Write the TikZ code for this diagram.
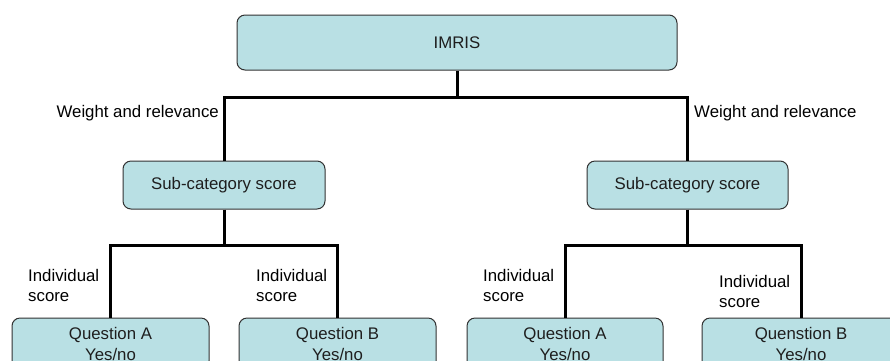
\documentclass[tikz,border=0pt]{standalone}
\usepackage{fontspec}
\setmainfont{Liberation Sans}
\definecolor{boxfill}{RGB}{185,224,228}
\definecolor{boxline}{RGB}{50,50,50}
\definecolor{boxtext}{RGB}{30,30,30}
\begin{document}
\begin{tikzpicture}[x=1pt,y=-1pt,
  box/.style={draw=boxline,line width=1pt,fill=boxfill,rounded corners=8pt,
    text=boxtext,align=center,inner sep=0pt,font=\fontsize{16.8}{21}\selectfont},
  lbl/.style={inner sep=0pt,font=\fontsize{16.8}{20}\selectfont,align=left},
  link/.style={line width=3pt,black}]
\clip (0,0) rectangle (890,360);
\fill[white] (0,0) rectangle (890,360);
% nodes
\node[box,minimum width=440pt,minimum height=55pt] (imris) at (457,42.5) {IMRIS};
\node[box,minimum width=202pt,minimum height=48pt] (sub1) at (224,185) {Sub-category score};
\node[box,minimum width=201pt,minimum height=48pt] (sub2) at (687.5,185) {Sub-category score};
\node[box,minimum width=197pt,minimum height=51pt] (qa1) at (110.5,343.5) {Question A\\Yes/no};
\node[box,minimum width=197pt,minimum height=51pt] (qb1) at (337.5,343.5) {Question B\\Yes/no};
\node[box,minimum width=196pt,minimum height=51pt] (qa2) at (565,343.5) {Question A\\Yes/no};
\node[box,minimum width=198pt,minimum height=51pt] (qb2) at (801,343.5) {Quenstion B\\Yes/no};
% junctions
\coordinate (j0) at (457,97);
\coordinate (j1) at (224,245);
\coordinate (j2) at (687.5,245);
% connectors
\draw[link] (imris.south) -- (j0);
\draw[link] (sub1.north) |- (j0) -| (sub2.north);
\draw[link] (sub1.south) -- (j1);
\draw[link] (qa1.north) |- (j1) -| (qb1.north);
\draw[link] (sub2.south) -- (j2);
\draw[link] (qa2.north) |- (j2) -| (qb2.north);
% labels
\node[lbl,anchor=east] (w1) at (219,113) {Weight and relevance};
\node[lbl,anchor=west] (w2) at (694,113) {Weight and relevance};
\node[lbl,anchor=west] (i1) at (28,285) {Individual\\score};
\node[lbl,anchor=west] (i2) at (256,285) {Individual\\score};
\node[lbl,anchor=west] (i3) at (483,285) {Individual\\score};
\node[lbl,anchor=west] (i4) at (719,291) {Individual\\score};
\end{tikzpicture}
\end{document}
